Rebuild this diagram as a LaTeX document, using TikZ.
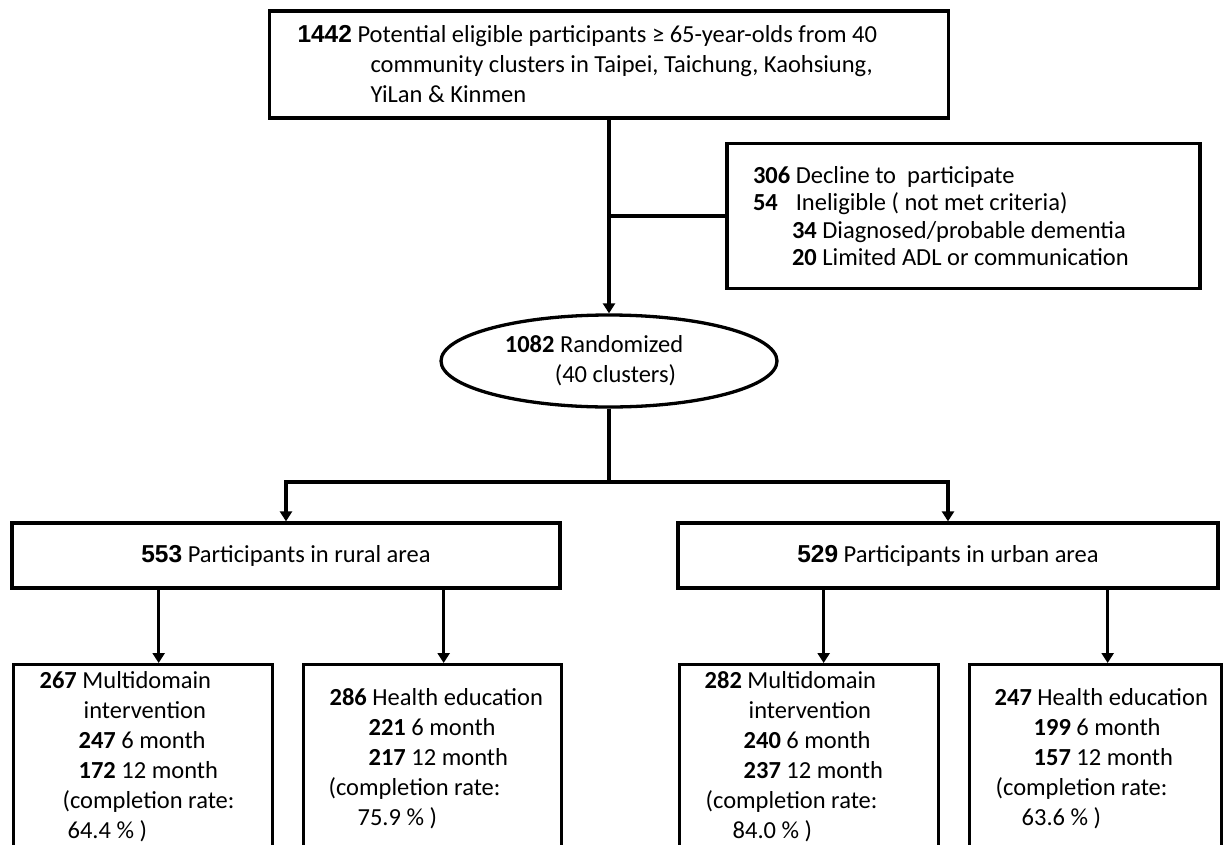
\documentclass[tikz,border=0pt]{standalone}
\usepackage{fontspec}
\setmainfont{Carlito}
\newfontfamily\arialfont{Liberation Sans}
\usetikzlibrary{shapes.geometric,arrows.meta}

\begin{document}
\begin{tikzpicture}[x=1pt,y=1pt,
	font=\fontsize{24.5}{30}\selectfont,
	box/.style={draw, rectangle, line width=3.3pt, inner sep=0pt},
	link/.style={line width=3.3pt},
	arr/.style={line width=3.3pt, -{Triangle[length=10pt,width=12pt]}}]
		\useasboundingbox (0,0) rectangle (1223,-844);
		\clip (0,0) rectangle (1223,-844);
		
		% screening
		\node[box, text width=623pt, inner xsep=28pt, minimum height=107pt, align=flush left] (eligible) at (609,-64.5)
			{{\arialfont\bfseries 1442} Potential eligible participants ≥ 65-year-olds from 40\\
			\hspace*{73pt}community clusters in Taipei, Taichung, Kaohsiung,\\
			\hspace*{73pt}YiLan \& Kinmen};
		\node[box, text width=421pt, inner xsep=26pt, minimum height=145pt, align=flush left,
			font=\fontsize{24.5}{27.5}\selectfont] (excluded) at (963.5,-216)
			{\textbf{306} Decline to\ \ participate\\
			\leavevmode\rlap{\textbf{54}}\phantom{\textbf{306} }Ineligible ( not met criteria)\\
			\hspace*{39pt}\textbf{34} Diagnosed/probable dementia\\
			\hspace*{39pt}\textbf{20} Limited ADL or communication};
		\node[draw, ellipse, line width=3.3pt, inner sep=0pt, minimum width=336pt, minimum height=92pt, align=left] (randomized) at (609,-361)
			{\textbf{1082} Randomized\hspace*{30pt}\\
			\hspace*{50pt}(40 clusters)};
		
		% areas
		\node[box, minimum width=548pt, minimum height=65pt] (rural) at (286,-555.5) {{\arialfont\bfseries 553} Participants in rural area};
		\node[box, minimum width=540pt, minimum height=65pt] (urban) at (948,-555.5) {{\arialfont\bfseries 529} Participants in urban area};
		
		% arms
		\node[box, anchor=north west, inner ysep=7pt] (ruralmd) at (12,-663)
			{\parbox[t][190pt][t]{259pt}{\hspace*{26pt}\textbf{267} Multidomain\\
			\hspace*{70pt}intervention\\
			\hspace*{65pt}\textbf{247} 6 month\\
			\hspace*{65pt}\textbf{172} 12 month\\
			\hspace*{49pt}(completion rate:\\
			\hspace*{54pt}64.4 \% )}};
		\node[box, anchor=north west, inner ysep=24pt] (ruralhe) at (302,-663)
			{\parbox[t][190pt][t]{258pt}{\hspace*{26pt}\textbf{286} Health education\\
			\hspace*{65pt}\textbf{221} 6 month\\
			\hspace*{65pt}\textbf{217} 12 month\\
			\hspace*{25pt}(completion rate:\\
			\hspace*{54pt}75.9 \% )}};
		\node[box, anchor=north west, inner ysep=7pt] (urbanmd) at (678,-663)
			{\parbox[t][190pt][t]{259pt}{\hspace*{25pt}\textbf{282} Multidomain\\
			\hspace*{69pt}intervention\\
			\hspace*{64pt}\textbf{240} 6 month\\
			\hspace*{64pt}\textbf{237} 12 month\\
			\hspace*{26pt}(completion rate:\\
			\hspace*{53pt}84.0 \% )}};
		\node[box, anchor=north west, inner ysep=24pt] (urbanhe) at (968,-663)
			{\parbox[t][190pt][t]{252pt}{\hspace*{25pt}\textbf{247} Health education\\
			\hspace*{64pt}\textbf{199} 6 month\\
			\hspace*{64pt}\textbf{157} 12 month\\
			\hspace*{26pt}(completion rate:\\
			\hspace*{52pt}63.6 \% )}};
		
		% connectors
		\coordinate (fork) at (609,-482);
		\draw[arr] (eligible.south) -- (randomized.north);
		\draw[link] (eligible.south |- excluded.west) -- (excluded.west);
		\draw[link] (randomized.south) -- (fork);
		\draw[arr] (fork) -| (rural.north);
		\draw[arr] (fork) -| (urban.north);
		\draw[arr] ([xshift=15.5pt]ruralmd.north |- rural.south) -- ([xshift=15.5pt]ruralmd.north);
		\draw[arr] ([xshift=11pt]ruralhe.north |- rural.south) -- ([xshift=11pt]ruralhe.north);
		\draw[arr] ([xshift=14.5pt]urbanmd.north |- urban.south) -- ([xshift=14.5pt]urbanmd.north);
		\draw[arr] ([xshift=12pt]urbanhe.north |- urban.south) -- ([xshift=12pt]urbanhe.north);
\end{tikzpicture}
\end{document}
